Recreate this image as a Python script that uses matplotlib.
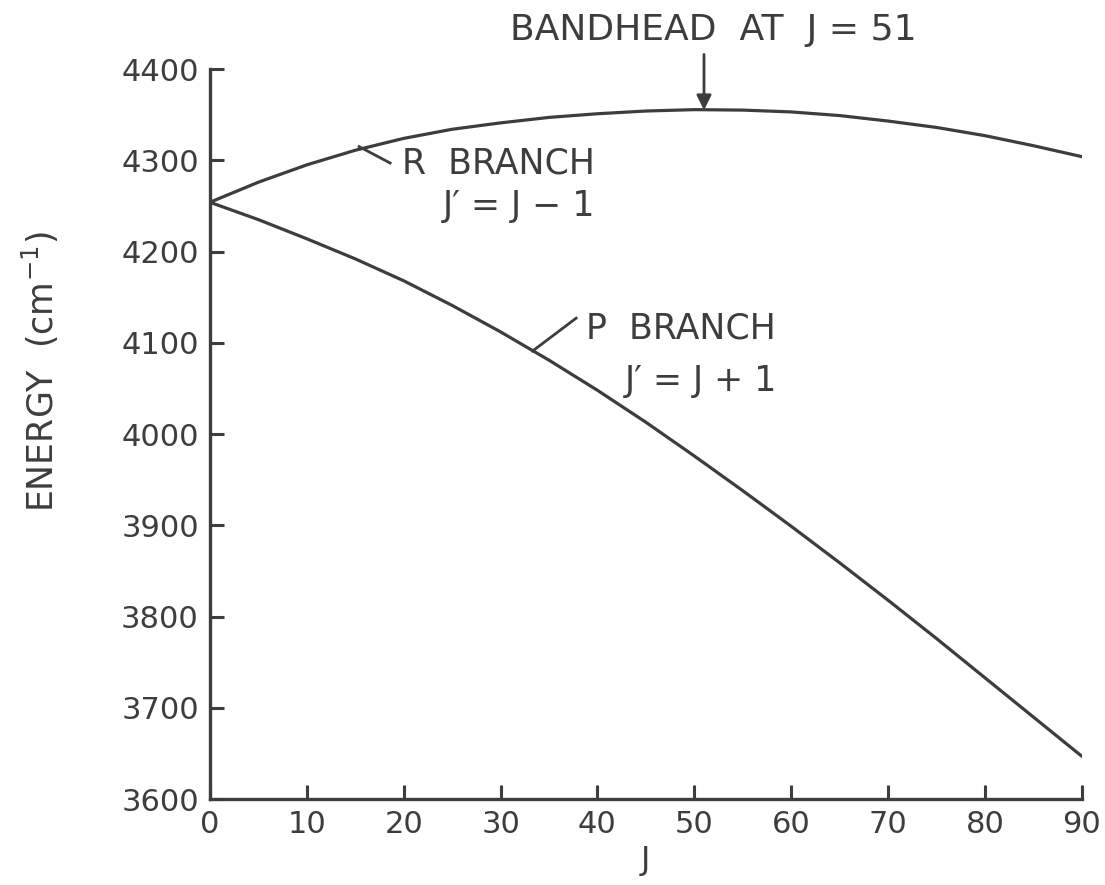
import matplotlib
matplotlib.use("Agg")
import matplotlib.pyplot as plt

# rotational quantum number J
J = [0, 5, 10, 15, 20, 25, 30, 35, 40, 45, 50, 55, 60, 65, 70, 75, 80, 85, 90]

# R branch (J' = J - 1), energy in cm^-1
r_branch = [4254, 4276, 4295, 4311, 4324, 4334, 4341, 4347, 4351, 4354,
            4355.5, 4355, 4353, 4349, 4343, 4336, 4327, 4316, 4304]

# P branch (J' = J + 1), energy in cm^-1
p_branch = [4254, 4235, 4214, 4192, 4168, 4141, 4112, 4081, 4048, 4013,
            3976, 3938, 3899, 3859, 3818, 3776, 3733, 3690, 3647]

x_ticks = [0, 10, 20, 30, 40, 50, 60, 70, 80, 90]
y_ticks = [3600, 3700, 3800, 3900, 4000, 4100, 4200, 4300, 4400]

bandhead_J = 51
bandhead_E = 4355

ink = '#3d3d3d'
plt.rcParams['font.family'] = ['DejaVu Sans']

fig = plt.figure(figsize=(11.05, 8.85), dpi=100)
ax = fig.add_axes([0.190, 0.097, 0.789, 0.825])

ax.plot(J, r_branch, color=ink, lw=2.3, solid_capstyle='round')
ax.plot(J, p_branch, color=ink, lw=2.3, solid_capstyle='round')

ax.set_xlim(0, 90)
ax.set_ylim(3600, 4400)
ax.set_xticks(x_ticks)
ax.set_yticks(y_ticks)

for side in ('top', 'right'):
    ax.spines[side].set_visible(False)
for side in ('left', 'bottom'):
    ax.spines[side].set_linewidth(2.4)
    ax.spines[side].set_color(ink)

ax.tick_params(direction='in', length=10, width=2.2, color=ink,
               labelsize=22, labelcolor=ink, pad=8)

ax.set_xlabel('J', fontsize=23, color=ink, labelpad=4)
fig.text(40 / 1105, 1 - 372 / 885, 'ENERGY  (cm$^{-1}$)', rotation=90,
         ha='center', va='center', fontsize=25, color=ink)

# bandhead arrow and label above the plot
ax.annotate('', xy=(bandhead_J, bandhead_E), xytext=(bandhead_J, 4416),
            arrowprops=dict(arrowstyle='-|>', color=ink, lw=2.0,
                            mutation_scale=22, shrinkA=0, shrinkB=0),
            annotation_clip=False)
ax.text(52.0, 4424, 'BANDHEAD  AT  J = 51', ha='center', va='bottom',
        fontsize=26, color=ink, clip_on=False)

# branch labels with short leader lines
ax.plot([15.4, 18.6], [4315, 4297], color=ink, lw=2.0)
ax.text(19.8, 4296, 'R  BRANCH', ha='left', va='center', fontsize=25, color=ink)
ax.text(24.0, 4250, "J\u2032 = J \u2212 1", ha='left', va='center', fontsize=25, color=ink)

ax.plot([33.3, 37.8], [4091, 4127], color=ink, lw=2.0)
ax.text(38.8, 4116, 'P  BRANCH', ha='left', va='center', fontsize=25, color=ink)
ax.text(42.8, 4058, "J\u2032 = J + 1", ha='left', va='center', fontsize=25, color=ink)

fig.savefig('out.png', dpi=100, facecolor='white')
